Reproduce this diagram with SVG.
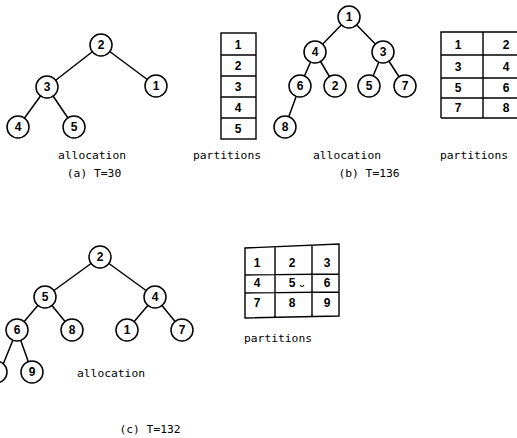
<svg xmlns="http://www.w3.org/2000/svg" width="517" height="438" viewBox="0 0 517 438">
<style>
.n circle{fill:#fff;stroke:#000;stroke-width:1.5}
.n text,.num{font-family:"Liberation Sans",Arial,sans-serif;font-size:12px;font-weight:bold;text-anchor:middle;dominant-baseline:central}
.e line{stroke:#000;stroke-width:1.5}
.lbl{font-family:"DejaVu Sans Mono","Liberation Mono",monospace;font-size:11.3px;text-anchor:middle}
.tb{fill:none;stroke:#000;stroke-width:1.4}
</style>
<rect width="517" height="438" fill="#fff"/>
<!-- (a) -->
<g class="e" id="edges-a">
<line x1="101" y1="45" x2="47" y2="87"/><line x1="101" y1="45" x2="156" y2="86"/>
<line x1="47" y1="87" x2="18" y2="127"/><line x1="47" y1="87" x2="74" y2="127"/>
</g>
<g class="n" id="a2"><circle cx="101" cy="45" r="11"/><text x="101" y="45">2</text></g>
<g class="n" id="a3"><circle cx="47" cy="87" r="11"/><text x="47" y="87">3</text></g>
<g class="n" id="a1"><circle cx="156" cy="86" r="11"/><text x="156" y="86">1</text></g>
<g class="n" id="a4"><circle cx="18" cy="127" r="11"/><text x="18" y="127">4</text></g>
<g class="n" id="a5"><circle cx="74" cy="127" r="11"/><text x="74" y="127">5</text></g>
<text class="lbl" x="92" y="159">allocation</text>
<text class="lbl" x="94" y="177">(a) T=30</text>
<g id="part-a">
<rect class="tb" x="221" y="33" width="35" height="106"/>
<line class="tb" x1="221" y1="55" x2="256" y2="55"/>
<line class="tb" x1="221" y1="76" x2="256" y2="76"/>
<line class="tb" x1="221" y1="97" x2="256" y2="97"/>
<line class="tb" x1="221" y1="118" x2="256" y2="118"/>
<text class="num" x="238" y="45">1</text>
<text class="num" x="238" y="66">2</text>
<text class="num" x="238" y="87">3</text>
<text class="num" x="238" y="108">4</text>
<text class="num" x="238" y="129">5</text>
</g>
<text class="lbl" x="227" y="159">partitions</text>
<!-- (b) -->
<g class="e" id="edges-b">
<line x1="349" y1="17" x2="315" y2="52"/><line x1="349" y1="17" x2="383" y2="52"/>
<line x1="315" y1="52" x2="300" y2="86"/><line x1="315" y1="52" x2="335" y2="86"/>
<line x1="383" y1="52" x2="369" y2="86"/><line x1="383" y1="52" x2="405" y2="86"/>
<line x1="300" y1="86" x2="285" y2="127"/>
</g>
<g class="n" id="b1"><circle cx="349" cy="17" r="11"/><text x="349" y="17">1</text></g>
<g class="n" id="b4"><circle cx="315" cy="52" r="11"/><text x="315" y="52">4</text></g>
<g class="n" id="b3"><circle cx="383" cy="52" r="11"/><text x="383" y="52">3</text></g>
<g class="n" id="b6"><circle cx="300" cy="86" r="11"/><text x="300" y="86">6</text></g>
<g class="n" id="b2"><circle cx="335" cy="86" r="11"/><text x="335" y="86">2</text></g>
<g class="n" id="b5"><circle cx="369" cy="86" r="11"/><text x="369" y="86">5</text></g>
<g class="n" id="b7"><circle cx="405" cy="86" r="11"/><text x="405" y="86">7</text></g>
<g class="n" id="b8"><circle cx="285" cy="127" r="11"/><text x="285" y="127">8</text></g>
<text class="lbl" x="347" y="159">allocation</text>
<text class="lbl" x="369" y="177">(b) T=136</text>
<g id="part-b">
<path class="tb" d="M520,32 H441 V118 M441,55 H520 M441,78 H520 M441,98 H520 M441,118 H520 M483,32 V118"/>
<text class="num" x="458" y="45">1</text>
<text class="num" x="506" y="45">2</text>
<text class="num" x="458" y="67">3</text>
<text class="num" x="506" y="67">4</text>
<text class="num" x="458" y="88">5</text>
<text class="num" x="506" y="88">6</text>
<text class="num" x="458" y="108">7</text>
<text class="num" x="506" y="108">8</text>
</g>
<text class="lbl" x="474" y="159">partitions</text>
<!-- (c) -->
<g class="e" id="edges-c">
<line x1="100" y1="257" x2="45" y2="297"/><line x1="100" y1="257" x2="155" y2="297"/>
<line x1="45" y1="297" x2="17" y2="330"/><line x1="45" y1="297" x2="72" y2="330"/>
<line x1="155" y1="297" x2="127" y2="330"/><line x1="155" y1="297" x2="182" y2="330"/>
<line x1="17" y1="330" x2="0" y2="372"/><line x1="17" y1="330" x2="32" y2="372"/>
</g>
<g class="n" id="c2"><circle cx="100" cy="257" r="11"/><text x="100" y="257">2</text></g>
<g class="n" id="c5"><circle cx="45" cy="297" r="11"/><text x="45" y="297">5</text></g>
<g class="n" id="c4"><circle cx="155" cy="297" r="11"/><text x="155" y="297">4</text></g>
<g class="n" id="c6"><circle cx="17" cy="330" r="11"/><text x="17" y="330">6</text></g>
<g class="n" id="c8"><circle cx="72" cy="330" r="11"/><text x="72" y="330">8</text></g>
<g class="n" id="c1"><circle cx="127" cy="330" r="11"/><text x="127" y="330">1</text></g>
<g class="n" id="c7"><circle cx="182" cy="330" r="11"/><text x="182" y="330">7</text></g>
<g class="n" id="cx"><circle cx="-4" cy="372" r="11"/></g>
<g class="n" id="c9"><circle cx="32" cy="372" r="11"/><text x="32" y="372">9</text></g>
<text class="lbl" x="111" y="377">allocation</text>
<text class="lbl" x="150" y="433">(c) T=132</text>
<g id="part-c">
<path class="tb" d="M245,248 L339,244 L339,316 L245,318 Z M245,275 L339,274 M245,293 L339,292 M275,247 V318 M312,245 V317"/>
<text class="num" x="257" y="263">1</text>
<text class="num" x="292" y="263">2</text>
<text class="num" x="327" y="263">3</text>
<text class="num" x="257" y="283">4</text>
<text class="num" x="292" y="283">5</text>
<path d="M300,285 q2,3 4,0" fill="none" stroke="#000" stroke-width="1.2"/>
<text class="num" x="327" y="283">6</text>
<text class="num" x="257" y="303">7</text>
<text class="num" x="292" y="303">8</text>
<text class="num" x="327" y="303">9</text>
</g>
<text class="lbl" x="278" y="342">partitions</text>
</svg>
